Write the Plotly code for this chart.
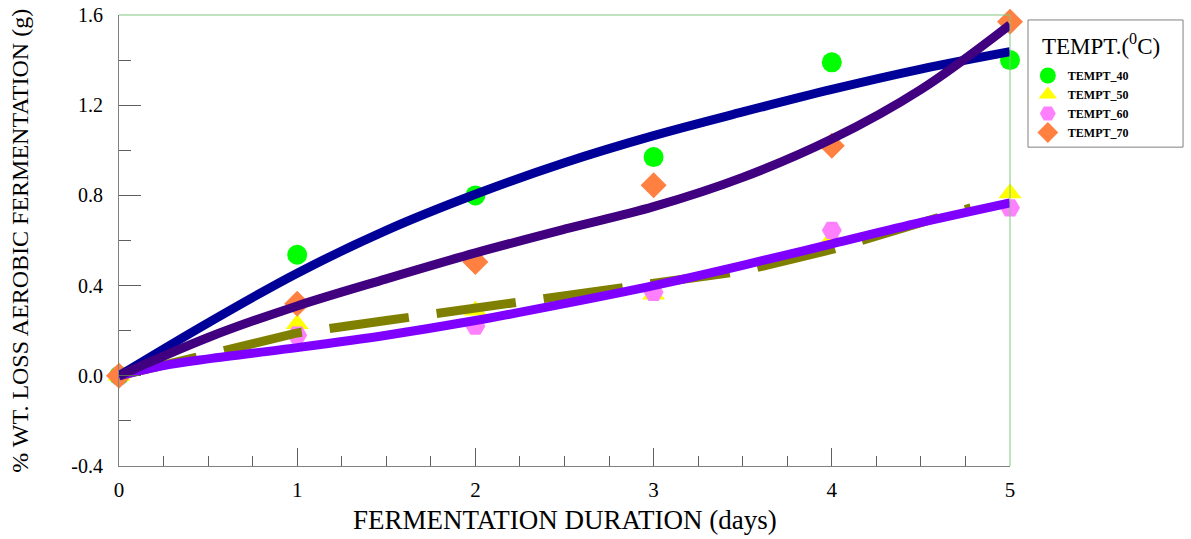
import plotly.graph_objects as go

# Observed data (days vs % wt loss)
days = [0, 1, 2, 3, 4, 5]
t40 = [0.0, 0.537, 0.80, 0.97, 1.39, 1.40]
t50 = [0.0, 0.23, 0.29, 0.36, 0.61, 0.81]
t60 = [0.0, 0.18, 0.22, 0.37, 0.645, 0.745]
t70 = [0.0, 0.32, 0.505, 0.845, 1.02, 1.57]

# Fitted curves
fit_x = [0, 0.5, 1, 1.5, 2, 2.5, 3, 3.5, 4, 4.5, 5]
fit40 = [0.0, 0.235, 0.455, 0.645, 0.805, 0.945, 1.065, 1.17, 1.27, 1.36, 1.437]
fit70 = [0.0, 0.17, 0.31, 0.43, 0.545, 0.65, 0.75, 0.88, 1.05, 1.27, 1.557]
fit60_x = [0, 0.25, 0.5, 1, 1.5, 2, 2.5, 3, 3.5, 4, 4.5, 5]
fit60 = [0.0, 0.045, 0.075, 0.125, 0.18, 0.245, 0.32, 0.40, 0.49, 0.585, 0.68, 0.767]
fit50_x = [0, 0.5, 1, 1.5, 2, 2.5, 3, 3.5, 4, 4.5, 4.78]
fit50 = [0.0, 0.10, 0.19, 0.245, 0.30, 0.35, 0.41, 0.465, 0.56, 0.68, 0.745]

y_ticks = [-0.4, 0.0, 0.4, 0.8, 1.2, 1.6]
y_ticktext = ["-0.4", "0.0", "0.4", "0.8", "1.2", "1.6"]
x_ticks = [0, 1, 2, 3, 4, 5]

SERIF = "Liberation Serif"

fig = go.Figure()

series = [
    ("TEMPT_40", t40, "#00FF00", "circle", 20),
    ("TEMPT_50", t50, "#FFFF00", "triangle-up", 20),
    ("TEMPT_60", t60, "#FF80FF", "hexagon2", 20),
    ("TEMPT_70", t70, "#FF8040", "diamond", 20),
]
for name, ys, col, sym, sz in series:
    fig.add_trace(go.Scatter(
        x=days, y=ys, mode="markers", name=name,
        marker=dict(color=col, symbol=sym, size=sz, line=dict(width=0)),
        cliponaxis=False,
    ))

fig.add_trace(go.Scatter(x=fit50_x, y=fit50, mode="lines", showlegend=False,
                         line=dict(color="#808000", width=9, dash="80px,28px")))
fig.add_trace(go.Scatter(x=fit60_x, y=fit60, mode="lines", showlegend=False,
                         line=dict(color="#8000FF", width=9, shape="spline")))
fig.add_trace(go.Scatter(x=fit_x, y=fit40, mode="lines", showlegend=False,
                         line=dict(color="#000099", width=9, shape="spline")))
fig.add_trace(go.Scatter(x=fit_x, y=fit70, mode="lines", showlegend=False,
                         line=dict(color="#400080", width=9, shape="spline")))

fig.update_layout(
    width=1191, height=539,
    margin=dict(l=119, r=181, t=15, b=73, autoexpand=False),
    paper_bgcolor="white", plot_bgcolor="white",
    font=dict(family=SERIF, color="black"),
    xaxis=dict(
        range=[0, 5], tickvals=x_ticks, ticks="inside", ticklen=18, tickcolor="#606060",
        tickwidth=1, showgrid=False, zeroline=False, showline=True, linecolor="#808080",
        linewidth=1, tickfont=dict(size=21, family=SERIF), automargin=False,
        ticklabelstandoff=5,
        minor=dict(dtick=0.25, ticks="inside", ticklen=10, tickcolor="#606060", showgrid=False),
    ),
    yaxis=dict(
        range=[-0.4, 1.6], tickvals=y_ticks, ticktext=y_ticktext, ticks="inside", ticklen=22,
        tickcolor="#606060", tickwidth=1, showgrid=False, zeroline=False, showline=True,
        linecolor="#808080", linewidth=1, tickfont=dict(size=20, family=SERIF),
        ticklabelstandoff=11, automargin=False,
        minor=dict(dtick=0.2, ticks="inside", ticklen=12, tickcolor="#606060", showgrid=False),
    ),
    legend=dict(
        x=1.02, y=0.898, xanchor="left", yanchor="top",
        borderwidth=0, bgcolor="rgba(0,0,0,0)",
        font=dict(size=12, family=SERIF, weight="bold"),
        tracegroupgap=0, itemwidth=30,
    ),
    shapes=[
        dict(type="line", xref="paper", yref="paper", x0=0, x1=1, y0=1, y1=1,
             line=dict(color="#80C880", width=1)),
        dict(type="line", xref="paper", yref="paper", x0=1, x1=1, y0=0, y1=1,
             line=dict(color="#80C880", width=1)),
        dict(type="rect", xref="paper", yref="paper", x0=1.0202, x1=1.1942, y0=0.707, y1=0.989,
             line=dict(color="#808080", width=1), fillcolor="rgba(0,0,0,0)", layer="below"),
    ],
    annotations=[
        dict(text="TEMPT.(<sup>0</sup>C)", xref="paper", yref="paper",
             x=1.0337, y=0.9335, xanchor="left", yanchor="middle", showarrow=False,
             font=dict(size=23, family=SERIF)),
        dict(text="FERMENTATION DURATION (days)", xref="paper", yref="paper",
             x=0.5, y=-0.12, xanchor="center", yanchor="middle", showarrow=False,
             font=dict(size=27, family=SERIF)),
        dict(text="% WT. LOSS AEROBIC FERMENTATION (g)", xref="paper", yref="paper",
             x=-0.112, y=0.5, xanchor="center", yanchor="middle", textangle=-90,
             showarrow=False, font=dict(size=24, family=SERIF)),
    ],
)

fig.write_html("out.html", config={"displayModeBar": False},
               post_script="document.body.style.margin='0';")
